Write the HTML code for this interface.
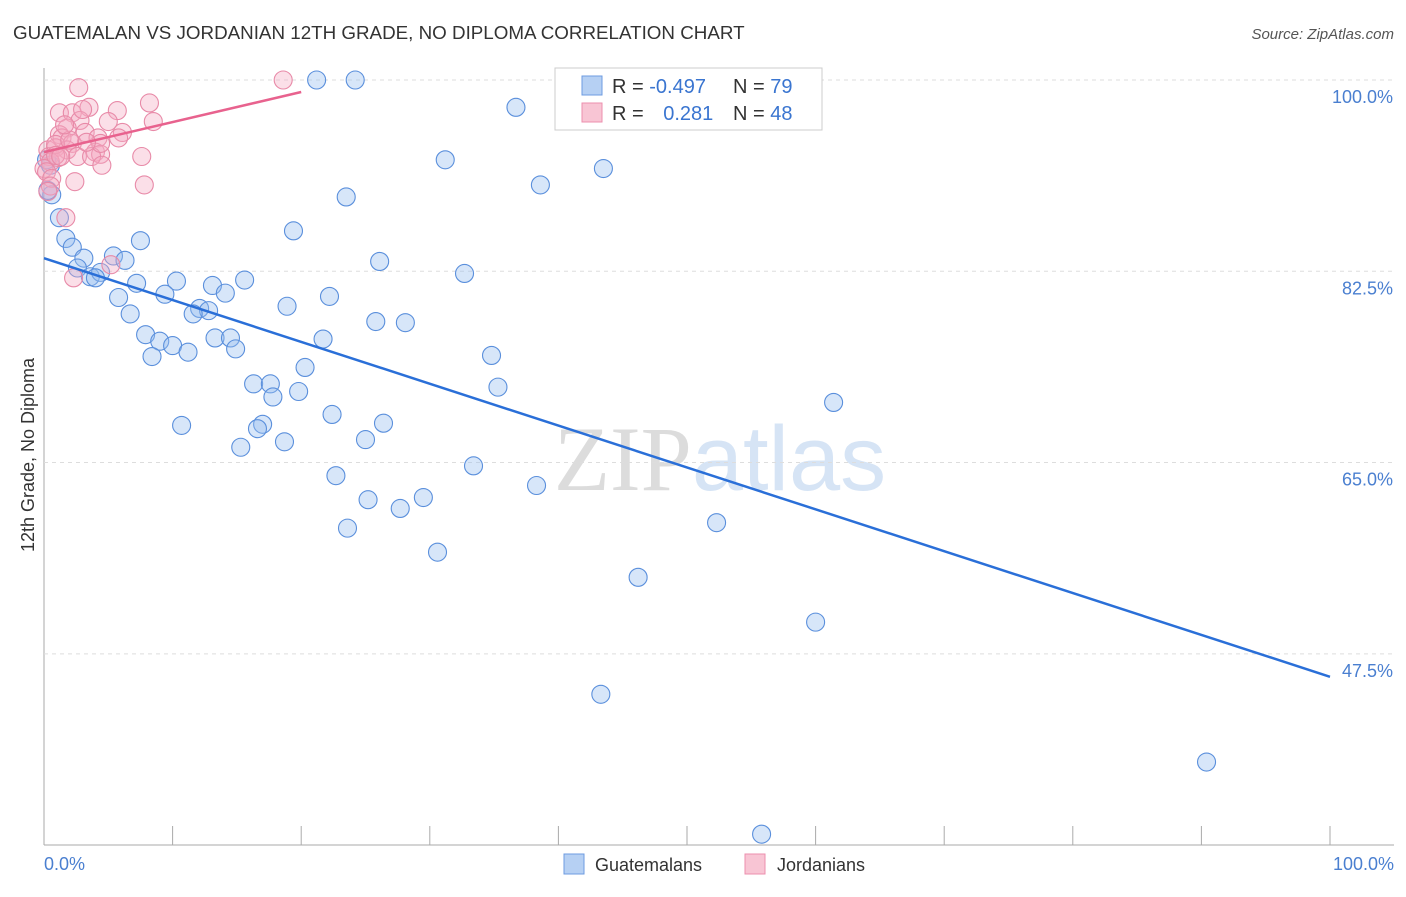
<!DOCTYPE html>
<html><head><meta charset="utf-8">
<style>
body{margin:0;background:#fff;font-family:"Liberation Sans",sans-serif;}
svg text{font-family:"Liberation Sans",sans-serif;}
</style></head>
<body>
<svg id="chart" width="1406" height="892" xmlns="http://www.w3.org/2000/svg">
<text x="13" y="39" font-size="18.8" fill="#333">GUATEMALAN VS JORDANIAN 12TH GRADE, NO DIPLOMA CORRELATION CHART</text>
<text x="1394" y="39" font-size="15" fill="#555" text-anchor="end" font-style="italic">Source: ZipAtlas.com</text>
<text x="720" y="490" font-size="92" text-anchor="middle" fill="#e6e6e6"><tspan font-family="Liberation Serif" fill="#dcdcdc">ZIP</tspan><tspan fill="#d6e4f5">atlas</tspan></text>
<g id="grid"></g>
<g id="pts"></g>
<g id="lines"></g>
<text transform="translate(34,455) rotate(-90)" font-size="18" fill="#333" text-anchor="middle">12th Grade, No Diploma</text>
<text x="44" y="870" font-size="18" fill="#4a7fd0">0.0%</text>
<text x="1394" y="870" font-size="18" fill="#4a7fd0" text-anchor="end">100.0%</text>
<g>
<rect x="555" y="68" width="267" height="62" fill="#fff" stroke="#ccc"/>
<rect x="582" y="76" width="20" height="19" fill="#b6d0f3" stroke="#6d9be0"/>
<rect x="582" y="103" width="20" height="19" fill="#f8c5d4" stroke="#ec8fae"/>
<text x="612" y="93" font-size="20" fill="#333">R = <tspan fill="#3a75d0">-0.497</tspan></text>
<text x="733" y="93" font-size="20" fill="#333">N = <tspan fill="#3a75d0">79</tspan></text>
<text x="612" y="120" font-size="20" fill="#333">R = <tspan fill="#3a75d0" dx="14">0.281</tspan></text>
<text x="733" y="120" font-size="20" fill="#333">N = <tspan fill="#3a75d0">48</tspan></text>
</g>
<g>
<rect x="564" y="854" width="20" height="20" fill="#b6d0f3" stroke="#6d9be0"/>
<text x="595" y="871" font-size="18" fill="#333">Guatemalans</text>
<rect x="745" y="854" width="20" height="20" fill="#f8c5d4" stroke="#ec8fae"/>
<text x="777" y="871" font-size="18" fill="#333">Jordanians</text>
</g>
</svg>
<script>
const yTicks=[100,82.5,65,47.5];
const yTickLabels=["100.0%","82.5%","65.0%","47.5%"];
const blueX=[21.2,24.2,58.6,36.7,31.2,38.6,43.5,23.5,0.6,0.3,1.2,19.4,1.7,2.2,7.5,3.1,5.4,6.3,2.6,3.6,4.4,4.0,26.1,32.7,7.2,10.3,15.6,13.1,14.1,9.4,5.8,22.2,18.9,12.1,12.8,11.6,6.7,25.8,28.1,7.9,9.0,10.0,11.2,13.3,14.5,14.9,21.7,8.4,34.8,20.3,16.3,17.6,19.8,17.8,35.3,61.4,22.4,10.7,17.0,16.6,26.4,25.0,18.7,15.3,33.4,22.7,38.3,25.2,29.5,27.7,23.6,52.3,30.6,46.2,60.0,43.3,90.4,55.8,0.5,0.2];
const blueY=[100,100,100,97.5,92.7,90.4,91.9,89.3,89.5,89.9,87.4,86.2,85.5,84.7,85.3,83.7,83.9,83.5,82.8,82.0,82.4,81.9,83.4,82.3,81.4,81.6,81.7,81.2,80.5,80.4,80.1,80.2,79.3,79.1,78.9,78.6,78.6,77.9,77.8,76.7,76.1,75.7,75.1,76.4,76.4,75.4,76.3,74.7,74.8,73.7,72.2,72.2,71.5,71.0,71.9,70.5,69.4,68.4,68.5,68.1,68.6,67.1,66.9,66.4,64.7,63.8,62.9,61.6,61.8,60.8,59.0,59.5,56.8,54.5,50.4,43.8,37.6,31.0,92.2,92.7];
const pinkX=[18.6,2.7,8.2,1.2,3.5,5.7,2.2,8.5,5.0,2.8,1.8,1.2,3.2,4.2,6.1,1.4,2.2,5.8,7.6,0.3,0.9,1.8,4.0,4.4,0.4,1.1,2.6,3.7,0.5,4.5,0,0.2,0.6,2.4,7.8,0.5,0.3,1.7,2.3,5.2,0.9,0.9,1.3,4.4,3.3,2.0,1.6,3.0];
const pinkY=[100,99.3,97.9,97.0,97.5,97.2,97.0,96.2,96.2,96.3,95.6,95.0,95.2,94.7,95.2,94.7,94.2,94.7,93.0,93.6,93.8,93.6,93.4,93.2,93.0,92.9,93.0,93.0,92.5,92.2,91.9,91.6,91.0,90.7,90.4,90.3,89.8,87.4,81.9,83.1,94.1,93.1,93.0,94.2,94.3,94.5,95.9,97.3];
const blueTrend=[[0,83.7],[100,45.4]];
const pinkTrend=[[0,93.4],[20,98.9]];
const NS="http://www.w3.org/2000/svg";
const xs=v=>44+v*12.86;
const ys=v=>80+(100-v)*10.93;
function mk(t,a,p){const e=document.createElementNS(NS,t);for(const k in a)e.setAttribute(k,a[k]);p.appendChild(e);return e;}
const grid=document.getElementById('grid');
mk('line',{x1:44,y1:68,x2:44,y2:845,stroke:'#aaa'},grid);
mk('line',{x1:44,y1:845,x2:1394,y2:845,stroke:'#aaa'},grid);
yTicks.forEach((t,i)=>{
  const g=mk('line',{x1:44,x2:1394,y1:ys(t),y2:ys(t),stroke:'#ddd','stroke-dasharray':'4,4'},grid);
  
  
  const l=mk('text',{x:1393,y:ys(t)+23,'font-size':18,fill:'#4a7fd0','text-anchor':'end'},grid);
  
  
  l.textContent=yTickLabels[i];
});
for(let i=1;i<=10;i++){
  const t=mk('line',{x1:xs(i*10),x2:xs(i*10),y1:826,y2:845,stroke:'#aaa'},grid);
  
  
}
const pts=document.getElementById('pts');
blueX.forEach((x,i)=>{
  const c=mk('circle',{cx:xs(x),cy:ys(blueY[i]),r:9,fill:'rgba(150,190,240,0.38)',stroke:'#5a8fdc','stroke-width':1.1},pts);
  
  
});
pinkX.forEach((x,i)=>{
  const c=mk('circle',{cx:xs(x),cy:ys(pinkY[i]),r:9,fill:'rgba(245,170,195,0.38)',stroke:'#e88aa8','stroke-width':1.1},pts);
  
  
});
const lines=document.getElementById('lines');
const bl=mk('line',{x1:xs(blueTrend[0][0]),y1:ys(blueTrend[0][1]),x2:xs(blueTrend[1][0]),y2:ys(blueTrend[1][1]),stroke:'#2a6fd8','stroke-width':2.5},lines);


const pl=mk('line',{x1:xs(pinkTrend[0][0]),y1:ys(pinkTrend[0][1]),x2:xs(pinkTrend[1][0]),y2:ys(pinkTrend[1][1]),stroke:'#e8628e','stroke-width':2.5},lines);


</script>
</body></html>
